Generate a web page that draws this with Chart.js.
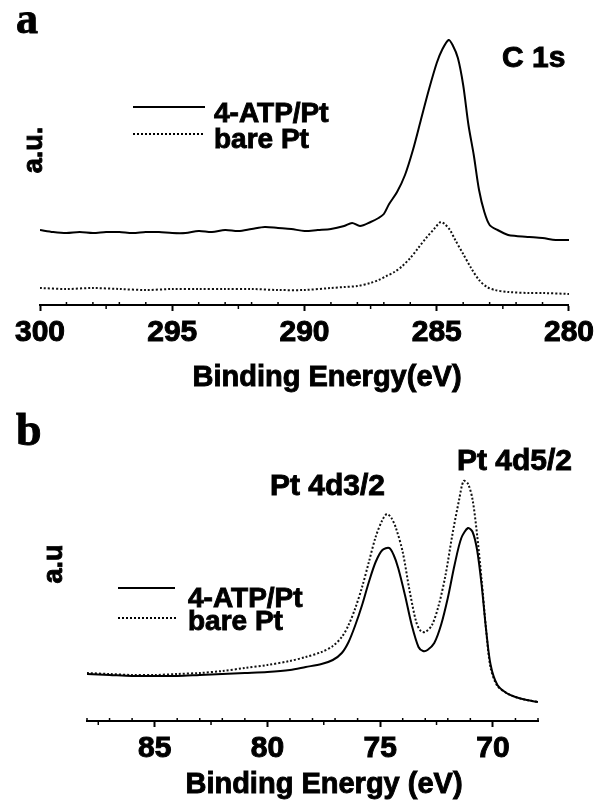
<!DOCTYPE html>
<html>
<head>
<meta charset="utf-8">
<script src="https://cdn.jsdelivr.net/npm/chart.js@4.4.1/dist/chart.umd.min.js"></script>
<style>
  html, body { margin: 0; padding: 0; background: #fff; }
  #wrap { position: relative; width: 598px; height: 805px; }
  .pane { position: absolute; left: 0; width: 598px; }
  #pa { top: 0; height: 400px; }
  #pb { top: 400px; height: 405px; }
</style>
</head>
<body>
<div id="wrap">
  <div class="pane" id="pa"><canvas id="chartA" width="598" height="400"></canvas></div>
  <div class="pane" id="pb"><canvas id="chartB" width="598" height="405"></canvas></div>
</div>
<script>
// ---- panel a : C 1s ----
var c1sTicks = [300, 295, 290, 285, 280];

var c1sAtpE = [300, 299.5, 299, 298.5, 298, 297.5, 297, 296.5, 296, 295.5, 295, 294.5, 294, 293.5, 293, 292.5, 292, 291.5, 291, 290.5,
  290, 289.5, 289, 288.5, 288.2, 287.9, 287.5, 287.2, 287, 286.8, 286.5, 286.2, 285.9, 285.6, 285.3, 285.0, 284.8, 284.55,
  284.4, 284.2, 284.0, 283.8, 283.6, 283.4, 283.2, 283.0, 282.7, 282.3, 282, 281.5, 281, 280.5, 280];
var c1sAtpI = [75, 73, 72, 73, 72, 73, 73, 72, 73, 73, 72, 72, 74, 73, 75, 74, 76, 78, 77, 76,
  74, 75, 76, 79, 82, 79, 83, 87, 91, 101, 113, 130, 155, 185, 215, 242, 255, 265,
  260, 247, 220, 180, 150, 115, 93, 80, 75, 70, 69, 68, 67, 65, 65];

var c1sBareE = [300, 299, 298, 297, 296, 295, 294, 293, 292, 291, 290, 289, 288.5, 288, 287.5, 287.2, 286.9, 286.6, 286.3, 286.0,
  285.7, 285.4, 285.1, 284.85, 284.7, 284.5, 284.3, 284.0, 283.7, 283.4, 283.1, 282.8, 282.3, 281.5, 281, 280];
var c1sBareI = [17, 16, 17, 16, 15, 16, 16, 16, 16, 15, 15, 17, 18, 19, 22, 25, 29, 33, 39, 47,
  57, 67, 76, 83, 81, 75, 65, 51, 37, 25, 18, 15, 13, 12, 12, 11];

// ---- panel b : Pt 4d ----
var pt4dTicks = [85, 80, 75, 70];

var pt4dAtpE = [88, 87, 86, 85, 84, 83, 82, 81, 80, 79, 78.3, 77.6, 77.1, 76.7, 76.4, 76.1, 75.8, 75.5, 75.2, 74.9, 74.6,
  74.4, 74.2, 73.9, 73.6, 73.3, 73.1, 72.9, 72.6, 72.3, 72.0, 71.7, 71.4, 71.1, 70.9, 70.7, 70.5, 70.3, 70.1, 69.8, 69.4, 69, 68.5, 68];
var pt4dAtpI = [47, 46, 45, 45, 45, 46, 47, 48, 49, 51, 54, 57, 61, 68, 79, 96, 116, 139, 159, 171, 173,
  166, 153, 126, 96, 74, 70, 71, 78, 96, 123, 156, 183, 193, 189, 171, 136, 91, 56, 36, 28, 24, 21, 19];

var pt4dBareE = [88, 87, 86, 85, 84, 83, 82, 81, 80, 79, 78.3, 77.6, 77.1, 76.7, 76.4, 76.1, 75.8, 75.5, 75.2, 74.9, 74.7,
  74.5, 74.3, 74.0, 73.7, 73.4, 73.2, 73.0, 72.7, 72.4, 72.1, 71.8, 71.5, 71.3, 71.1, 70.9, 70.7, 70.5, 70.3, 70.1, 69.8, 69.4, 69, 68.5, 68];
var pt4dBareI = [48, 47, 46, 46, 47, 48, 50, 53, 56, 60, 64, 69, 75, 84, 96, 113, 134, 159, 184, 201, 207,
  203, 193, 169, 131, 99, 90, 89, 96, 116, 146, 186, 221, 240, 237, 221, 186, 141, 91, 53, 35, 28, 24, 21, 19];

var sans = "'Liberation Sans', Arial, sans-serif";
var serif = "'Liberation Serif', 'Times New Roman', serif";

function pts(xs, ys) {
  return xs.map(function (x, i) { return { x: x, y: ys[i] }; });
}

function heavyText(ctx, s, x, y) {
  ctx.fillText(s, x, y);
  ctx.strokeText(s, x, y);
}

// draws panel letter, labels, legend, small ticks and axis title
var decoPlugin = {
  id: 'deco',
  afterDraw: function (chart, args, o) {
    var ctx = chart.ctx;
    var xs = chart.scales.x;
    var yb = chart.chartArea.bottom;
    ctx.save();
    ctx.strokeStyle = '#000';
    ctx.lineWidth = 1.5;
    for (var v = xs.min; v <= xs.max + 0.001; v += 0.5) {
      if (Math.abs(v % 5) < 0.001) continue;
      var px = xs.getPixelForValue(v);
      ctx.beginPath();
      if (Math.abs(v % 2.5) < 0.001) { ctx.moveTo(px, yb); ctx.lineTo(px, yb + 4); }
      else if (Math.abs(v % 1) < 0.001) { ctx.moveTo(px, yb); ctx.lineTo(px, yb - 3); }
      else continue;
      ctx.stroke();
    }
    // legend
    o.legend.forEach(function (l) {
      var ds = chart.data.datasets[l.ds];
      ctx.lineWidth = ds.borderWidth;
      ctx.setLineDash(ds.borderDash || []);
      ctx.beginPath();
      ctx.moveTo(l.x1, l.y);
      ctx.lineTo(l.x2, l.y);
      ctx.stroke();
      ctx.setLineDash([]);
      ctx.fillStyle = '#000';
      ctx.lineWidth = 0.9;
      ctx.font = 'bold 28px ' + sans;
      ctx.textAlign = 'left';
      ctx.textBaseline = 'alphabetic';
      heavyText(ctx, ds.label, l.tx, l.ty);
    });
    // texts
    o.texts.forEach(function (t) {
      ctx.save();
      ctx.fillStyle = '#000';
      ctx.strokeStyle = '#000';
      ctx.lineWidth = 0.9;
      ctx.font = t.font;
      ctx.textAlign = t.align || 'left';
      ctx.textBaseline = 'alphabetic';
      ctx.translate(t.x, t.y);
      if (t.rot) ctx.rotate(t.rot);
      heavyText(ctx, t.t, 0, 0);
      ctx.restore();
    });
    ctx.restore();
  }
};

function makeChart(id, atp, bare, xMin, xMax, yMax, ticks, scaleH, deco) {
  return new Chart(document.getElementById(id), {
    type: 'line',
    data: {
      datasets: [{
        label: '4-ATP/Pt',
        data: atp,
        borderColor: '#000',
        borderWidth: 2,
        pointRadius: 0,
        tension: 0.3
      }, {
        label: 'bare Pt',
        data: bare,
        borderColor: '#111',
        borderWidth: 2,
        borderDash: [2, 2],
        pointRadius: 0,
        tension: 0.3
      }]
    },
    options: {
      responsive: false,
      animation: false,
      layout: { padding: deco.pad },
      plugins: { legend: { display: false }, tooltip: { enabled: false }, deco: deco },
      scales: {
        x: {
          type: 'linear',
          min: xMin,
          max: xMax,
          reverse: true,
          afterBuildTicks: function (s) { s.ticks = ticks.map(function (v) { return { value: v }; }); },
          afterFit: function (s) { s.height = scaleH; },
          border: { display: true, color: '#000', width: 2 },
          grid: { display: true, drawOnChartArea: false, drawTicks: true, tickLength: 6, tickColor: '#000', tickWidth: 2 },
          ticks: {
            color: '#000', font: { family: sans, size: 30, weight: 'bold' }, padding: 4,
            textStrokeColor: '#000', textStrokeWidth: 1, maxRotation: 0, autoSkip: false
          }
        },
        y: { display: false, min: 0, max: yMax }
      }
    },
    plugins: [decoPlugin]
  });
}

makeChart('chartA', pts(c1sAtpE, c1sAtpI), pts(c1sBareE, c1sBareI), 280, 300, 295, c1sTicks, 95, {
  pad: { left: 40, right: 24, top: 10, bottom: 0 },
  legend: [
    { ds: 0, x1: 133, x2: 205, y: 107, tx: 214, ty: 122 },
    { ds: 1, x1: 133, x2: 205, y: 134, tx: 214, ty: 148 }
  ],
  texts: [
    { t: 'a', x: 16, y: 33, font: 'bold 44px ' + serif },
    { t: 'C 1s', x: 502, y: 67, font: 'bold 30px ' + sans },
    { t: 'a.u.', x: 42, y: 150, rot: -Math.PI / 2, align: 'center', font: 'bold 27px ' + sans },
    { t: 'Binding Energy(eV)', x: 327, y: 386, align: 'center', font: 'bold 29px ' + sans }
  ]
});

makeChart('chartB', pts(pt4dAtpE, pt4dAtpI), pts(pt4dBareE, pt4dBareI), 68, 88, 311, pt4dTicks, 84, {
  pad: { left: 87, right: 60, top: 10, bottom: 0 },
  legend: [
    { ds: 0, x1: 118, x2: 175, y: 188, tx: 188, ty: 207 },
    { ds: 1, x1: 118, x2: 178, y: 218, tx: 188, ty: 230 }
  ],
  texts: [
    { t: 'b', x: 16, y: 45, font: 'bold 46px ' + serif },
    { t: 'Pt 4d3/2', x: 270, y: 95, font: 'bold 30px ' + sans },
    { t: 'Pt 4d5/2', x: 457, y: 70, font: 'bold 30px ' + sans },
    { t: 'a.u', x: 62, y: 164, rot: -Math.PI / 2, align: 'center', font: 'bold 27px ' + sans },
    { t: 'Binding Energy (eV)', x: 324, y: 393, align: 'center', font: 'bold 29px ' + sans }
  ]
});
</script>
</body>
</html>
